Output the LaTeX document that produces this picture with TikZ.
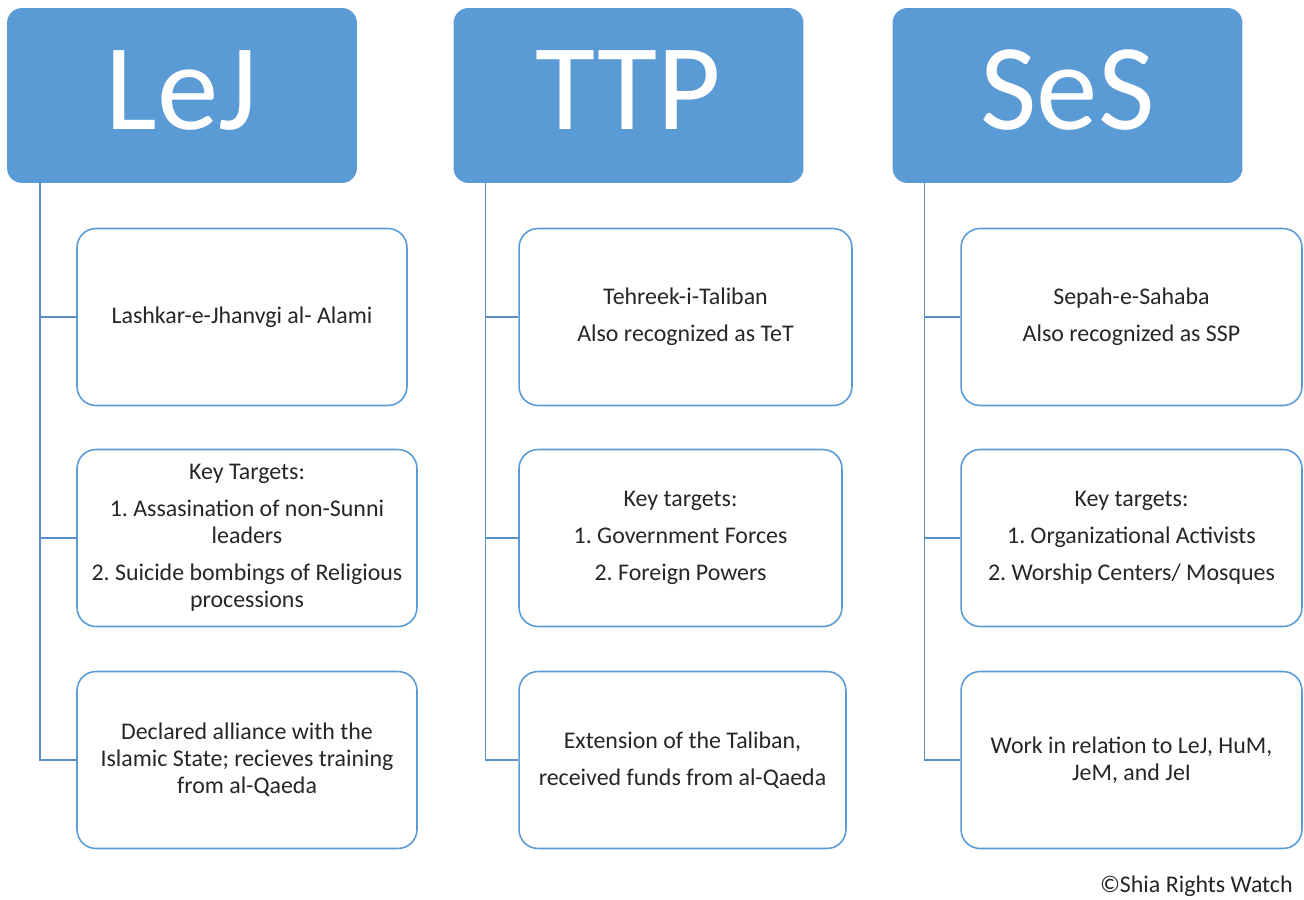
\documentclass[tikz,border=0pt]{standalone}
\usepackage{fontspec}
\setmainfont{Carlito}
\usepackage{tikz}
\usetikzlibrary{positioning}
\definecolor{hdrblue}{HTML}{5B9BD5}
\definecolor{linkblue}{HTML}{5A8EC6}
\definecolor{txtgray}{HTML}{262626}
\frenchspacing

\begin{document}
\begin{tikzpicture}[x=0.02cm,y=-0.02cm,
  head/.style={fill=hdrblue, rounded corners=0.3cm, minimum width=7cm, minimum height=3.5cm, inner sep=0pt, text=white, text depth=0.22cm, font=\fontsize{70}{80}\selectfont},
  item/.style={draw=hdrblue, line width=0.9pt, fill=white, rounded corners=0.38cm, minimum height=3.54cm, inner sep=0pt, align=center, text=txtgray, font=\fontsize{13.6}{15.4}\selectfont},
  tree/.style={draw=linkblue, line width=0.8pt}]
\useasboundingbox (0,0) rectangle (1304,899);
% headers
\node[head] (lej) at (182,95.5) {LeJ};
\node[head] (ttp) at (628.5,95.5) {TTP};
\node[head] (ses) at (1067.5,95.5) {SeS};
% LeJ
\node[item, minimum width=6.6cm] (lej1) at (242,317) {Lashkar-e-Jhanvgi al- Alami};
\node[item, minimum width=6.8cm] (lej2) at (247,538) {Key Targets:\\[5.7pt] 1. Assasination of non-Sunni\\ leaders\\[5.7pt] 2. Suicide bombings of Religious\\ processions};
\node[item, minimum width=6.8cm] (lej3) at (247,760) {Declared alliance with the\\ Islamic State; recieves training\\ from al-Qaeda};
% TTP
\node[item, minimum width=6.66cm] (ttp1) at (685.5,317) {Tehreek-i-Taliban\\[5.7pt] Also recognized as TeT};
\node[item, minimum width=6.46cm] (ttp2) at (680.5,538) {Key targets:\\[5.7pt] 1. Government Forces\\[5.7pt] 2. Foreign Powers};
\node[item, minimum width=6.54cm] (ttp3) at (682.5,760) {Extension of the Taliban,\\[5.7pt] received funds from al-Qaeda};
% SeS
\node[item, minimum width=6.82cm] (ses1) at (1131.5,317) {Sepah-e-Sahaba\\[5.7pt] Also recognized as SSP};
\node[item, minimum width=6.82cm] (ses2) at (1131.5,538) {Key targets:\\[5.7pt] 1. Organizational Activists\\[5.7pt] 2. Worship Centers/ Mosques};
\node[item, minimum width=6.82cm] (ses3) at (1131.5,760) {Work in relation to LeJ, HuM,\\ JeM, and JeI};
%\draw[tree] (lej.south) -- (lej1.north);
\draw[tree] ([xshift=0.67cm]lej.south west) |- (lej1.west);
\draw[tree] ([xshift=0.67cm]lej.south west) |- (lej2.west);
\draw[tree] ([xshift=0.67cm]lej.south west) |- (lej3.west);
\draw[tree] ([xshift=0.65cm]ttp.south west) |- (ttp1.west);
\draw[tree] ([xshift=0.65cm]ttp.south west) |- (ttp2.west);
\draw[tree] ([xshift=0.65cm]ttp.south west) |- (ttp3.west);
\draw[tree] ([xshift=0.65cm]ses.south west) |- (ses1.west);
\draw[tree] ([xshift=0.65cm]ses.south west) |- (ses2.west);
\draw[tree] ([xshift=0.65cm]ses.south west) |- (ses3.west);
\node[anchor=east, inner sep=0pt, text=txtgray, font=\fontsize{13.6}{15.4}\selectfont] (credit) at (1293,886) {©Shia Rights Watch};
\end{tikzpicture}
\end{document}
